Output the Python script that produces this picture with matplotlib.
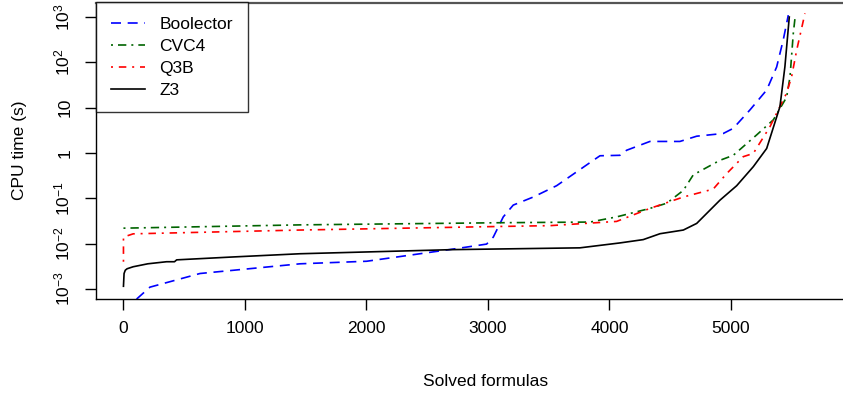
import matplotlib
matplotlib.use("Agg")
import matplotlib.pyplot as plt
from matplotlib.ticker import FixedLocator, FixedFormatter, NullLocator

plt.rcParams['font.family'] = ['Liberation Sans', 'DejaVu Sans']
plt.rcParams['mathtext.fontset'] = 'custom'
plt.rcParams['mathtext.rm'] = 'Liberation Sans'
plt.rcParams['mathtext.it'] = 'Liberation Sans:italic'
plt.rcParams['mathtext.bf'] = 'Liberation Sans:bold'

# cumulative runtime curves (number of solved formulas vs. CPU time)
boolector_x = [108, 218, 630, 1453, 2002, 2742, 2989, 3044, 3126, 3208, 3373, 3565,
               3867, 3922, 4086, 4141, 4333, 4580, 4718, 4937, 5019, 5156, 5294,
               5376, 5430, 5472]
boolector_y = [0.0006, 0.0011, 0.0022, 0.0036, 0.0041, 0.0078, 0.0098, 0.014, 0.039,
               0.071, 0.107, 0.19, 0.69, 0.87, 0.89, 1.15, 1.8, 1.8, 2.35, 2.7, 3.5,
               8.9, 24.5, 79, 309, 1100]

cvc4_x = [0, 1453, 3100, 3840, 4059, 4333, 4471, 4608, 4690, 4909, 5019, 5211, 5349,
          5458, 5486, 5513, 5527]
cvc4_y = [0.022, 0.026, 0.029, 0.030, 0.039, 0.06, 0.078, 0.15, 0.33, 0.69, 0.89, 2.5,
          5.4, 17, 48, 434, 940]

q3b_x = [0, 0, 80, 1453, 3100, 3510, 4059, 4333, 4608, 4854, 4964, 5101, 5184, 5321,
         5458, 5499, 5541, 5609]
q3b_y = [0.004, 0.014, 0.0165, 0.020, 0.024, 0.025, 0.031, 0.06, 0.107, 0.16, 0.35,
         0.83, 0.98, 3.8, 21, 48, 186, 1200]

z3_x = [0, 5, 15, 30, 80, 200, 355, 420, 438, 904, 1453, 2714, 3757, 4087, 4278, 4416,
        4608, 4718, 4909, 5047, 5184, 5294, 5403, 5444, 5480]
z3_y = [0.00115, 0.0022, 0.0026, 0.0028, 0.0031, 0.0036, 0.0040, 0.0040, 0.0044, 0.0051,
        0.006, 0.0074, 0.0081, 0.0104, 0.0123, 0.0166, 0.020, 0.028, 0.091, 0.19, 0.5,
        1.26, 10.5, 80, 1000]

x_ticks = [0, 1000, 2000, 3000, 4000, 5000]
y_ticks = [1e-3, 1e-2, 1e-1, 1, 10, 1e2, 1e3]
y_labels = [r'$10^{-3}$', r'$10^{-2}$', r'$10^{-1}$', '1', '10', r'$10^{2}$', r'$10^{3}$']

W, H = 843, 394
fig = plt.figure(figsize=(W / 100, H / 100), dpi=100)
ax = fig.add_axes([96 / W, 1 - 299 / H, 780 / W, (299 - 2.5) / H])

lw = 1.2
ax.plot(boolector_x, boolector_y, color='#0000ff', lw=lw, dashes=(6, 4), label='Boolector')
ax.plot(cvc4_x, cvc4_y, color='#006400', lw=lw, dashes=(1.2, 3, 5, 3), label='CVC4')
ax.plot(q3b_x, q3b_y, color='#ff0000', lw=lw, dashes=(1.2, 3.5, 4.5, 3.5), label='Q3B')
ax.plot(z3_x, z3_y, color='black', lw=lw, label='Z3')

ax.set_yscale('log')
ax.set_xlim(-226, -226 + 780 / 0.1215)
ax.set_ylim(10 ** -3.22, 10 ** 3.32)

ax.xaxis.set_major_locator(FixedLocator(x_ticks))
ax.yaxis.set_major_locator(FixedLocator(y_ticks))
ax.yaxis.set_major_formatter(FixedFormatter(y_labels))
ax.yaxis.set_minor_locator(NullLocator())
ax.tick_params(axis='both', which='major', direction='out', length=8, width=1,
               labelsize=12.5)
ax.tick_params(axis='x', pad=8)
ax.tick_params(axis='y', pad=9)
for lab in ax.get_yticklabels():
    lab.set_rotation(90)
    lab.set_va('center')

for s in ax.spines.values():
    s.set_linewidth(1)
ax.spines['right'].set_visible(False)
ax.spines['top'].set_color('#555555')
ax.spines['top'].set_linewidth(1.6)

ax.set_xlabel('Solved formulas', fontsize=12.5, labelpad=27)
ax.set_ylabel('CPU time (s)', fontsize=12.5, labelpad=18)

leg = ax.legend(loc='upper left', bbox_to_anchor=(0, 1), fontsize=12.5, frameon=True,
                fancybox=False, borderaxespad=0, handlelength=2.0, handletextpad=0.8,
                labelspacing=0.38, borderpad=0.85)
leg.get_frame().set_edgecolor('black')
leg.get_frame().set_linewidth(1)

fig.savefig('out.png', dpi=100)
